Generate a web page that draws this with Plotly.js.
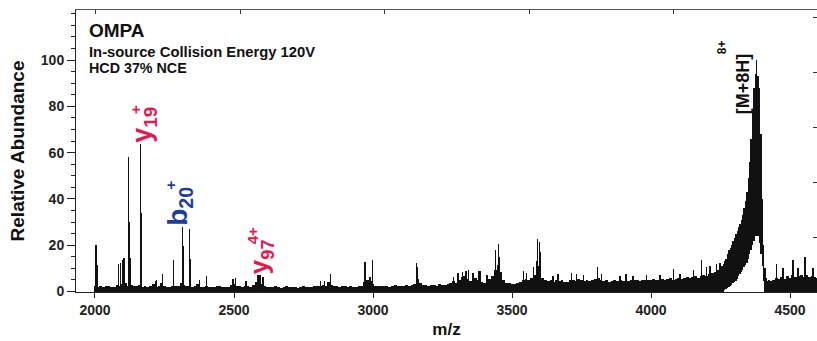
<!DOCTYPE html>
<html>
<head>
<meta charset="utf-8">
<script src="https://cdn.plot.ly/plotly-3.0.1.min.js"></script>
<style>html,body{margin:0;padding:0;background:#fff;}#chart{width:817px;height:341px;}</style>
</head>
<body>
<div id="chart"></div>
<script>
// ---- Data ----
// Continuous profile (baseline band), sampled from 2000 to 4250 m/z every 10 m/z
const profileLeftStart = 2000;
const profileLeftStep = 10;
const profileLeft = [
  2.4, 2.0, 2.6, 1.8, 2.2, 2.5, 1.9, 2.1, 3.0, 2.4,
  3.2, 3.6, 2.6, 3.0, 2.4, 2.2, 2.8, 2.0, 2.3, 1.9,
  2.2, 3.4, 2.0, 2.4, 3.8, 2.6, 2.1, 1.9, 2.6, 2.2,
  2.5, 3.6, 3.0, 2.6, 2.2, 2.0, 2.4, 3.2, 2.0, 1.8,
  2.6, 2.1, 1.9, 1.8, 2.2, 2.4, 2.0, 1.8, 2.1, 2.7,
  3.4, 2.6, 2.2, 2.0, 2.6, 2.2, 2.0, 2.8, 4.2, 3.8,
  3.4, 2.6, 2.1, 1.9, 1.8, 2.2, 2.0, 1.7, 2.0, 2.2,
  2.1, 1.9, 1.8, 1.7, 2.0, 2.3, 1.9, 1.8, 2.0, 2.2,
  2.4, 2.2, 3.0, 2.6, 4.0, 3.0, 2.5, 2.3, 2.1, 2.4,
  2.2, 2.0, 2.3, 2.1, 1.9, 2.2, 2.5, 4.0, 5.0, 4.6,
  3.4, 2.6, 2.4, 2.2, 2.5, 2.3, 2.1, 2.4, 2.7, 2.3,
  2.5, 2.3, 2.7, 2.4, 2.9, 3.4, 5.5, 3.8, 3.0, 2.7,
  2.5, 2.9, 2.7, 2.4, 3.1, 2.9, 2.7, 3.3, 3.8, 4.4,
  3.8, 4.8, 6.2, 6.8, 5.6, 4.6, 4.2, 5.8, 5.2, 4.2,
  3.8, 4.4, 5.4, 6.8, 9.5, 11.5, 8.5, 5.2, 3.8, 3.6,
  3.4, 3.3, 3.8, 4.2, 4.8, 5.6, 5.2, 5.8, 7.0, 13.0,
  11.0, 5.8, 4.8, 4.6, 4.8, 4.3, 5.0, 4.4, 4.8, 4.2,
  4.3, 4.8, 5.2, 4.6, 5.3, 4.8, 4.4, 5.0, 4.6, 4.8,
  5.3, 5.8, 4.8, 4.4, 4.8, 4.2, 4.6, 5.0, 4.4, 4.8,
  4.6, 5.0, 4.4, 4.8, 5.2, 4.8, 4.6, 5.0, 4.8, 5.2,
  5.0, 5.4, 4.8, 5.2, 5.6, 5.0, 5.4, 5.8, 5.2, 5.6,
  5.8, 5.4, 6.0, 6.3, 5.8, 6.2, 6.6, 6.0, 6.8, 7.3,
  6.8, 7.4, 7.8, 8.3, 9.2, 10.2
];

// Precursor [M+8H]8+ envelope: upper and lower edges of the dense trace
const parentMz = [4255, 4260, 4265, 4270, 4275, 4280, 4285, 4290, 4295, 4300,
                  4305, 4310, 4315, 4320, 4325, 4330, 4335, 4340, 4345, 4350,
                  4355, 4360, 4365, 4370, 4375, 4380, 4385, 4390, 4395, 4400,
                  4405, 4410, 4415, 4420, 4425];
const parentHi = [11, 12, 13, 14, 16, 18, 19, 20, 22, 23,
                  25, 26, 28, 29, 31, 33, 36, 39, 43, 49,
                  56, 66, 78, 88, 94, 100, 93, 88, 68, 40,
                  20, 10, 6, 4.5, 5];
const parentLo = [0, 0, 0.5, 1, 1.5, 2, 2.5, 3, 3.5, 4,
                  4.5, 5.5, 6.5, 7.5, 8.5, 9.5, 10.5, 11.5, 12.5, 14,
                  16, 18, 20, 22, 24, 24, 24, 21, 16, 11,
                  4.5, 0, 0, 0, 0];

// Profile after the precursor, 4430 to 4600 every 10 m/z
const profileRightStart = 4430;
const profileRightStep = 10;
const profileRight = [4.6, 5.2, 6.0, 5.4, 6.4, 5.6, 6.8, 6.0, 7.0, 6.2,
                      6.6, 7.2, 6.4, 7.0, 6.2, 6.8, 6.4, 6.0];

// Discrete fragment / noise peaks (centroid sticks)
const stickMz = [2004, 2007, 2084, 2091, 2100, 2104, 2120, 2123, 2126, 2164,
                 2167, 2219, 2222, 2242, 2282, 2315, 2318, 2339, 2342, 2375,
                 2402, 2497, 2505, 2543, 2587, 2593, 2605, 2812, 2826, 2848,
                 2971, 2989, 2999, 3157, 3160, 3289, 3305, 3322, 3335, 3343,
                 3360, 3379, 3385, 3410, 3440, 3451, 3455, 3541, 3553, 3577,
                 3591, 3598, 3602, 3648, 3666, 3714, 3733, 3757, 3808, 3822,
                 3889, 3910, 3935, 3984, 4032, 4080, 4104, 4152, 4182, 4200,
                 4212, 4236, 4248, 4452, 4475, 4511, 4529, 4554, 4583];
const stickY  = [20, 11.5, 12, 12.5, 13.5, 14.5, 58, 30, 14.5, 63.6,
                 34, 4.5, 5, 7.4, 13.8, 28, 19.5, 26.8, 14, 5.2,
                 6.5, 5.6, 6, 4.5, 7.2, 7, 6.2, 4.5, 4.6, 7.4,
                 12.7, 6.2, 13.7, 12.5, 10.5, 6.2, 8, 8.5, 9, 9.2,
                 8.2, 9, 8.8, 7, 17.8, 20.6, 15, 9, 8, 10.8,
                 22.8, 21.4, 17, 6.5, 7.5, 7.8, 7.5, 7.3, 10.5, 7.6,
                 6.8, 7.4, 6.6, 7, 7.3, 9.8, 7.7, 9.1, 13.7, 10.5,
                 11, 12, 12.4, 12, 10, 13.7, 10, 15, 10];

// Peak labels (ion name with subscript) and their charge states
const labelText  = ['y<sub>19</sub>', 'b<sub>20</sub>', 'y<sub>97</sub>', '[M+8H]'];
const labelMz    = [2178, 2306, 2594, 4334];
const labelY     = [72.2, 36.6, 14.9, 89.9];
const labelColor = ['#e5194f', '#1d3c9c', '#e5194f', '#111111'];
const labelSize  = [27, 28, 26, 18];
const chargeText = ['+', '+', '4+', '8+'];
const chargeMz   = [2144, 2272, 2565, 4254];
const chargeY    = [78.4, 46.1, 23.9, 105.4];
const chargeSize = [15, 15, 15, 12];

// Axis ticks
const xTickVals = [2000, 2500, 3000, 3500, 4000, 4500];
const yTickVals = [0, 20, 40, 60, 80, 100];
const yMinorVals = [5, 10, 15, 25, 30, 35, 45, 50, 55, 65, 70, 75, 85, 90, 95, 105, 110, 115, 120];

// Header text
const headerText = ['OMPA', 'In-source Collision Energy 120V', 'HCD 37% NCE'];

// ---- Drawing ----
const FONT = 'Liberation Sans, Arial, Helvetica, sans-serif';
const INK = '#111111';

const traces = [
  {type: 'bar', x0: profileLeftStart, dx: profileLeftStep, y: profileLeft,
   width: profileLeftStep, marker: {color: INK, line: {width: 0}}, hoverinfo: 'skip'},
  {type: 'bar', x: parentMz, base: parentLo, y: parentHi.map((h, i) => h - parentLo[i]),
   width: 5, marker: {color: INK, line: {width: 0}}, hoverinfo: 'skip'},
  {type: 'bar', x0: profileRightStart, dx: profileRightStep, y: profileRight,
   width: profileRightStep, marker: {color: INK, line: {width: 0}}, hoverinfo: 'skip'},
  {type: 'bar', x: stickMz, y: stickY, width: 5,
   marker: {color: INK, line: {width: 0}}, hoverinfo: 'skip'},
  {type: 'scatter', x: [], y: [], xaxis: 'x2', yaxis: 'y2', showlegend: false}
];

const tickFont = {family: FONT, size: 14, weight: 700, color: '#222'};

const annotations = [
  {text: headerText[0], xref: 'paper', yref: 'paper', x: 0.0148, y: 0.929, xanchor: 'left', yanchor: 'middle',
   showarrow: false, font: {family: FONT, size: 19, weight: 700, color: INK}},
  {text: headerText[1], xref: 'paper', yref: 'paper', x: 0.0148, y: 0.851, xanchor: 'left', yanchor: 'middle',
   showarrow: false, font: {family: FONT, size: 14.8, weight: 700, color: INK}},
  {text: headerText[2], xref: 'paper', yref: 'paper', x: 0.0148, y: 0.794, xanchor: 'left', yanchor: 'middle',
   showarrow: false, font: {family: FONT, size: 14.3, weight: 700, color: INK}}
];
labelText.forEach((t, i) => {
  annotations.push({text: t, x: labelMz[i], y: labelY[i], xref: 'x', yref: 'y',
    textangle: -90, showarrow: false, xanchor: 'center', yanchor: 'middle',
    font: {family: FONT, size: labelSize[i], weight: 700, color: labelColor[i]}});
  annotations.push({text: chargeText[i], x: chargeMz[i], y: chargeY[i], xref: 'x', yref: 'y',
    textangle: -90, showarrow: false, xanchor: 'center', yanchor: 'middle',
    font: {family: FONT, size: chargeSize[i], weight: 700, color: labelColor[i]}});
});

const layout = {
  width: 817, height: 341,
  margin: {l: 76, r: 0, t: 10, b: 49, pad: 0},
  paper_bgcolor: '#fff', plot_bgcolor: '#fff',
  showlegend: false, barmode: 'overlay', bargap: 0,
  xaxis: {
    range: [1931.7, 4597], tickmode: 'array', tickvals: xTickVals,
    ticks: 'outside', ticklen: 5, tickwidth: 1, tickcolor: '#222',
    showline: true, linecolor: '#222', linewidth: 1, showgrid: false, zeroline: false,
    tickfont: tickFont, automargin: false,
    title: {text: 'm/z', font: {family: FONT, size: 17, weight: 700, color: INK}, standoff: 6}
  },
  yaxis: {
    range: [-0.2, 121.6], tickmode: 'array', tickvals: yTickVals,
    ticks: 'outside', ticklen: 8, tickwidth: 1, tickcolor: '#222',
    minor: {tickmode: 'array', tickvals: yMinorVals, ticks: 'outside', ticklen: 4, tickwidth: 1, tickcolor: '#222', showgrid: false},
    showline: true, linecolor: '#222', linewidth: 1, showgrid: false, zeroline: false,
    tickfont: tickFont, automargin: false,
    title: {text: 'Relative Abundance', font: {family: FONT, size: 19, weight: 700, color: INK}, standoff: 11}
  },
  xaxis2: {
    overlaying: 'x', side: 'top', anchor: 'y', range: [-0.138, 4.99],
    tickmode: 'linear', tick0: 0, dtick: 1, ticks: 'inside', ticklen: 4, tickwidth: 1, tickcolor: '#333',
    showticklabels: false, showline: true, linecolor: '#555', linewidth: 1, showgrid: false, zeroline: false
  },
  yaxis2: {
    overlaying: 'y', side: 'right', anchor: 'x', range: [0, 5.13],
    tickmode: 'linear', tick0: 0, dtick: 1, ticks: 'inside', ticklen: 4, tickwidth: 1, tickcolor: '#333',
    showticklabels: false, showline: true, linecolor: '#555', linewidth: 1, showgrid: false, zeroline: false
  },
  annotations: annotations
};

Plotly.newPlot('chart', traces, layout, {staticPlot: true, displayModeBar: false});
</script>
</body>
</html>
